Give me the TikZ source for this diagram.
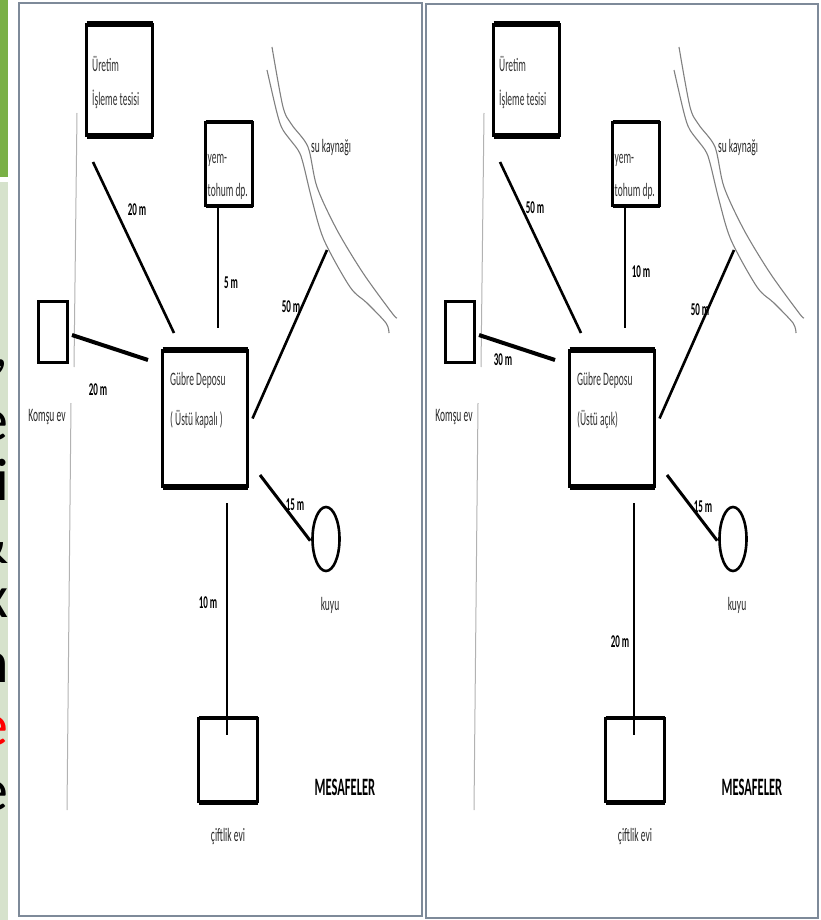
\documentclass[tikz,border=0pt]{standalone}
\usepackage{fontspec}
\setmainfont{Carlito}
\newfontfamily\darfont[FakeStretch=0.5]{Carlito}
\usetikzlibrary{positioning, shapes.geometric}

\definecolor{cercevegri}{HTML}{7E8A99}
\definecolor{koyuyesil}{HTML}{7AB046}
\definecolor{acikyesil}{HTML}{D6E2CC}

\begin{document}
\begin{tikzpicture}[
    x=1pt, y=-1pt,
    % Stili per edifici, testi e linee
    bina/.style={draw, line width=2.4pt, inner sep=0pt, outer sep=0pt},
    kalin/.style={line width=6pt},
    yazi/.style={font=\darfont\fontsize{19}{22}\selectfont, text=black!80, inner sep=0pt, align=left},
    etiket/.style={font=\darfont\fontsize{19}{22}\selectfont, text=black!85, inner sep=0pt},
    mesafe/.style={font=\darfont\bfseries\fontsize{18}{22}\selectfont, inner sep=0pt},
    hat/.style={line width=2.6pt},
    ince/.style={line width=1.7pt},
    nehir/.style={draw=black!50, line width=1.1pt},
    yol/.style={draw=black!30, line width=1pt},
    pano/.style={draw=cercevegri, line width=1.5pt}
]
\useasboundingbox (0,0) rectangle (820,920);

    % Striscia a sinistra
    \fill[koyuyesil] (0,0) rectangle (8,177);
    \fill[acikyesil] (0,182) rectangle (8,920);
    \begin{scope}
        \clip (0,182) rectangle (8,920);
        \foreach \h/\y/\c in {{,}/366/black, e/440/black, i/500/black, \&/563/black, x/617/black, n/682/black, e/745/red, e/810/black}
            \node[anchor=base east, inner sep=0pt, text=\c, font=\fontsize{60}{60}\selectfont] (harf\y) at (9,\y) {\h};
    \end{scope}

    % Cornici
    \draw[pano] (19,3) rectangle (422,916);
    \draw[pano] (426,4) rectangle (818,918);

    % Due piante
    \foreach \p/\dx/\ust in {L/0/( Üstü kapalı ), R/407/(Üstü açık)} {
    \begin{scope}[shift={(\dx,0)}]
        % Edifici
        \node[bina, minimum width=85pt, minimum height=137pt] (gubre\p) at (205,418.5) {};
        \node[bina, minimum width=66pt, minimum height=112pt] (uretim\p) [above left=214pt and 10pt of gubre\p] {};
        \node[bina, minimum width=47pt, minimum height=84pt] (yem\p) [above=144pt of gubre\p, xshift=24pt] {};
        \node[bina, line width=3pt, minimum width=29pt, minimum height=61pt] (komsu\p) [left=95pt of gubre\p, yshift=87pt] {};
        \node[bina, minimum width=59pt, minimum height=84pt] (ciftlik\p) [below=231pt of gubre\p, xshift=23pt] {};
        \node[bina, ellipse, line width=2.6pt, minimum width=27pt, minimum height=64pt] (kuyu\p) [right=65pt of gubre\p, yshift=-120.5pt] {};

        % Bordi spessi
        \foreach \n in {uretim,gubre} {
            \draw[kalin] (\n\p.north west) -- (\n\p.north east);
            \draw[kalin] (\n\p.south west) -- (\n\p.south east);
        }
        \draw[line width=4pt] (yem\p.north west) -- (yem\p.north east);
        \draw[line width=4pt] (yem\p.south west) -- (yem\p.south east);
        \draw[line width=3.5pt] (ciftlik\p.north west) -- (ciftlik\p.north east);
        \draw[line width=5pt] (ciftlik\p.south west) -- (ciftlik\p.south east);

        % Testi
        \node[yazi, below right=32pt and 5.5pt of uretim\p.north west] (uretimyazi\p) {Üretim\\[12pt]İşleme tesisi};
        \node[yazi, below right=32pt and 2pt of yem\p.north west] (yemyazi\p) {yem-\\[11pt]tohum dp.};
        \node[yazi, below right=22pt and 7.5pt of gubre\p.north west] (gubreyazi\p) {Gübre Deposu\\[18pt]\ust};
        \node[etiket, below=47pt of komsu\p, xshift=-6pt] (komsuad\p) {Komşu ev};
        \node[etiket, below=26pt of kuyu\p, xshift=4pt] (kuyuad\p) {kuyu};
        \node[etiket, below=26pt of ciftlik\p] (ciftlikad\p) {çiftlik evi};
        \node[etiket, text=black, font=\darfont\bfseries\fontsize{25}{28}\selectfont, right=57pt of ciftlik\p, yshift=-27pt] (baslik\p) {MESAFELER};
        \node[etiket] (suad\p) at (331,148) {su kaynağı};

        % Strada e fiume
        \draw[yol] (77,113) -- (74,367);
        \draw[yol] (71,403) -- (67,810);
        \draw[nehir] plot[smooth] coordinates {(272,47) (283,107) (292,125) (308,147) (317,187) (337,230) (363,273) (392,313) (397,318)};
        \draw[nehir] plot[smooth] coordinates {(267,70) (277,113) (283,130) (298,150) (303,163) (312,200) (324,240) (350,287) (367,303) (386,323) (389,333)};

        % Collegamenti
        \coordinate (ug1\p) at (93,162);
        \coordinate (ug2\p) at (174,333);
        \coordinate (yg\p) at (218,328);
        \coordinate (ng\p) at (327,250);
        \coordinate (kg1\p) at (72,335);
        \coordinate (kg2\p) at (148,360);
        \coordinate (gk\p) at (260,475);
        \coordinate (gc1\p) at (227,503);
        \coordinate (gc2\p) at (227,735);
        \draw[hat] (ug1\p) -- (ug2\p);
        \draw[ince] (yem\p.south -| yg\p) -- (yg\p);
        \draw[hat] (ng\p) -- ([xshift=5pt]gubre\p.east);
        \draw[line width=4pt] (kg1\p) -- (kg2\p);
        \draw[hat, line width=3pt, shorten >=4pt] (gk\p) -- (kuyu\p.200);
        \draw[ince, line width=1.5pt] (gc1\p) -- (gc2\p);
    \end{scope}
    }

    % Distanze
    \node[mesafe] (d1L) at (137,210) {20 m};
    \node[mesafe] (d2L) at (231,283) {5 m};
    \node[mesafe] (d3L) at (291,307) {50 m};
    \node[mesafe] (d4L) at (98,390) {20 m};
    \node[mesafe] (d5L) at (295,505) {15 m};
    \node[mesafe] (d6L) at (208,603) {10 m};
    \node[mesafe] (d1R) at (535,208) {50 m};
    \node[mesafe] (d2R) at (641,272) {10 m};
    \node[mesafe] (d3R) at (700,310) {50 m};
    \node[mesafe] (d4R) at (503,360) {30 m};
    \node[mesafe] (d5R) at (703,507) {15 m};
    \node[mesafe] (d6R) at (620,642) {20 m};

\end{tikzpicture}
\end{document}
